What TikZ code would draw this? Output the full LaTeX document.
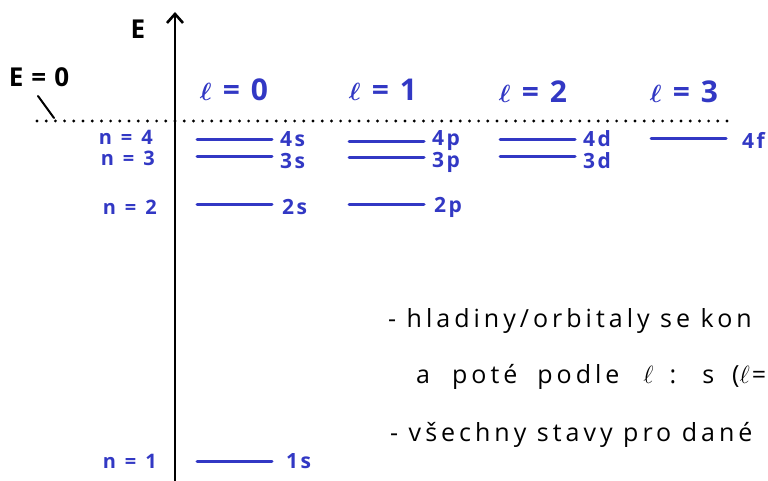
\documentclass[tikz,border=0pt]{standalone}
\usepackage{bm}
\usepackage{fontspec}
\setmainfont{Open Sans}[LetterSpace=12]
\newfontfamily\handwide{Open Sans}[LetterSpace=16]
\usetikzlibrary{arrows.meta}
\definecolor{inkblue}{RGB}{50,56,196}
\newcommand{\gap}[1]{\hspace{#1pt}}
\tikzset{
  level/.style={inkblue, line width=3pt, line cap=round},
  lvlabel/.style={inkblue, anchor=west, inner sep=0pt, font=\bfseries\fontsize{21}{21}\selectfont},
  nlabel/.style={inkblue, anchor=east, inner sep=0pt, font=\bfseries\fontsize{20}{20}\selectfont},
  llabel/.style={inkblue, inner sep=0pt, font=\bfseries\fontsize{30}{30}\selectfont},
  note/.style={anchor=base west, inner sep=0pt, font=\handwide\fontsize{25}{25}\selectfont}
}
\begin{document}
\begin{tikzpicture}[x=1pt, y=-1pt]
    \useasboundingbox (0,0) rectangle (768,481);

    % energy axis
    \coordinate (bottom) at (175,481);
    \coordinate (top) at (175,12);
    \draw[line width=2.6pt, -{Straight Barb[length=9pt, width=16pt, line width=2.6pt]}] (bottom) -- (top);
    \node[font=\bfseries\fontsize{26}{26}\selectfont] (elabel) at (138,29) {E};

    % E = 0 line (dotted)
    \coordinate (zl) at (37,121);
    \coordinate (zr) at (730,121);
    \draw[line width=3.2pt, line cap=round, dash pattern=on 0pt off 9.2pt] (zl) -- (zr);
    \node[font=\bfseries\fontsize{26}{26}\selectfont] (ezero) at (39,77) {E\gap{8}=\gap{8}0};
    \draw[line width=2pt, line cap=round] (38,96) -- (54,118);

    % columns for l
    \node[llabel] (l0) at (234,90) {$\bm{\ell}$\gap{11}=\gap{11}0};
    \node[llabel] (l1) at (383,90) {$\bm{\ell}$\gap{11}=\gap{11}1};
    \node[llabel] (l2) at (533,92) {$\bm{\ell}$\gap{11}=\gap{11}2};
    \node[llabel] (l3) at (684,92) {$\bm{\ell}$\gap{11}=\gap{11}3};

    % principal quantum number n
    \node[nlabel] (n4) at (153,137) {n\gap{9}=\gap{9}4};
    \node[nlabel] (n3) at (155,158) {n\gap{9}=\gap{9}3};
    \node[nlabel] (n2) at (157,207) {n\gap{9}=\gap{9}2};
    \node[nlabel] (n1) at (157,461) {n\gap{9}=\gap{9}1};

    % energy levels
    \foreach \x/\y/\t in {197/140/4s, 197/157/3s, 197/205/2s, 197/461/1s,
                          349/142/4p, 349/158/3p, 349/205/2p,
                          500/140/4d, 500/157/3d,
                          651/139/4f}
        \draw[level] (\x,\y) -- ++(75,0) coordinate (e\t);
    \foreach \t/\dx/\dy in {4s/8/-1, 3s/8/4, 2s/10/2, 1s/14/0,
                            4p/8/-1, 3p/8/4, 2p/10/2,
                            4d/8/-1, 3d/8/4, 4f/16/1}
        \node[lvlabel] (lab\t) at ([xshift=\dx, yshift=-\dy]e\t) {\t};

    % notes
    \node[note] (rule1) at (388,327) {- hladiny/orbitaly se kon};
    \node[note] (rule2) at (416,383) {a\gap{22}poté\gap{20}podle\gap{24}$\ell$\gap{16}:\gap{26}s\gap{18}($\ell$\gap{2}=};
    \node[note] (rule3) at (390,441) {- všechny stavy pro dané};
\end{tikzpicture}
\end{document}
